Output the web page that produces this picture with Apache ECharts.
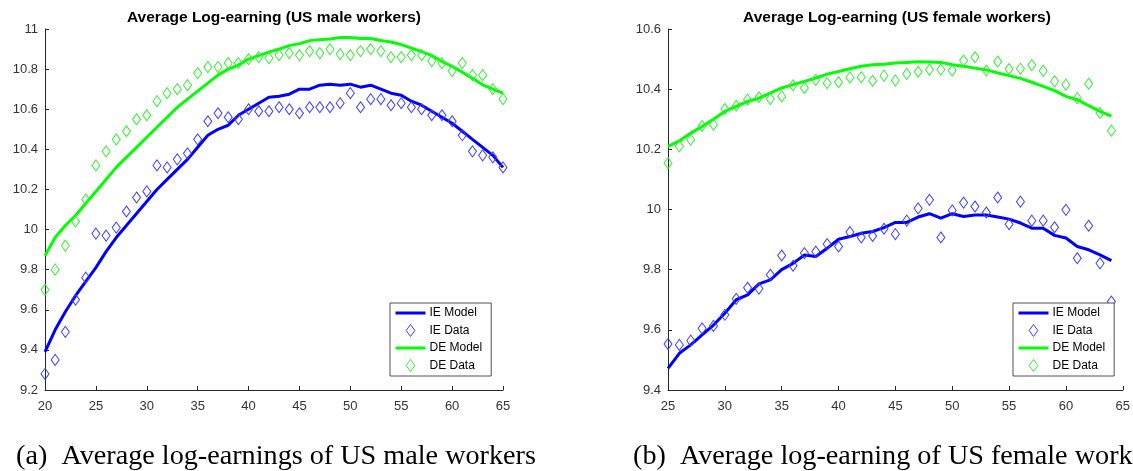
<!DOCTYPE html>
<html>
<head>
<meta charset="utf-8">
<script src="https://cdn.jsdelivr.net/npm/echarts@6/dist/echarts.min.js"></script>
<style>
html,body{margin:0;padding:0;background:#fff;}
#chart{width:1133px;height:471px;}
</style>
</head>
<body>
<div id="chart"></div>
<script>
// ---- Data ----
var maleAges = [20,21,22,23,24,25,26,27,28,29,30,31,32,33,34,35,36,37,38,39,40,41,42,43,44,45,46,47,48,49,50,51,52,53,54,55,56,57,58,59,60,61,62,63,64,65];
var maleIEModel = [9.39,9.50,9.59,9.67,9.74,9.81,9.89,9.96,10.02,10.08,
  10.14,10.20,10.25,10.30,10.35,10.41,10.47,10.50,10.52,10.57,
  10.60,10.63,10.66,10.665,10.675,10.70,10.70,10.72,10.725,10.72,
  10.725,10.71,10.72,10.70,10.68,10.67,10.64,10.62,10.59,10.56,
  10.53,10.49,10.45,10.41,10.37,10.31];
var maleIEData = [9.28,9.35,9.49,9.65,9.76,9.98,9.97,10.01,10.09,10.16,
  10.19,10.32,10.31,10.35,10.38,10.45,10.54,10.58,10.56,10.55,
  10.60,10.59,10.59,10.61,10.60,10.58,10.61,10.61,10.61,10.63,
  10.68,10.61,10.65,10.65,10.62,10.63,10.61,10.60,10.57,10.57,
  10.54,10.47,10.39,10.37,10.36,10.31];
var maleDEModel = [9.87,9.96,10.02,10.07,10.13,10.19,10.25,10.31,10.36,10.41,
  10.46,10.51,10.56,10.61,10.65,10.69,10.73,10.77,10.80,10.82,
  10.85,10.867,10.885,10.90,10.917,10.927,10.942,10.947,10.95,10.957,
  10.958,10.953,10.953,10.943,10.935,10.922,10.905,10.887,10.867,10.838,
  10.814,10.784,10.754,10.722,10.70,10.68];
var maleDEData = [9.70,9.80,9.92,10.04,10.15,10.32,10.39,10.45,10.49,10.55,
  10.57,10.64,10.68,10.70,10.72,10.78,10.81,10.81,10.83,10.83,
  10.85,10.86,10.855,10.87,10.88,10.87,10.89,10.88,10.90,10.875,
  10.87,10.89,10.90,10.89,10.86,10.86,10.87,10.87,10.84,10.83,
  10.79,10.83,10.77,10.77,10.70,10.65];

var femAges = [25,26,27,28,29,30,31,32,33,34,35,36,37,38,39,40,41,42,43,44,45,46,47,48,49,50,51,52,53,54,55,56,57,58,59,60,61,62,63,64];
var femIEModel = [9.472,9.522,9.55,9.583,9.616,9.655,9.70,9.716,9.753,9.766,
  9.80,9.821,9.849,9.844,9.871,9.901,9.91,9.921,9.927,9.94,
  9.957,9.957,9.975,9.986,9.971,9.986,9.977,9.982,9.982,9.975,
  9.968,9.955,9.938,9.938,9.914,9.905,9.877,9.866,9.849,9.83];
var femIEData = [9.553,9.55,9.564,9.605,9.613,9.65,9.703,9.74,9.737,9.783,
  9.847,9.813,9.855,9.86,9.885,9.877,9.925,9.907,9.912,9.936,
  9.918,9.963,10.004,10.032,9.907,9.997,10.023,10.01,9.99,10.04,
  9.951,10.026,9.963,9.963,9.941,9.999,9.838,9.946,9.821,9.694];
var femDEModel = [10.21,10.228,10.254,10.276,10.30,10.326,10.343,10.359,10.37,10.387,
  10.404,10.415,10.426,10.437,10.45,10.459,10.468,10.476,10.481,10.483,
  10.487,10.489,10.491,10.49,10.489,10.481,10.476,10.47,10.464,10.454,
  10.445,10.436,10.423,10.409,10.395,10.376,10.365,10.345,10.326,10.31];
var femDEData = [10.154,10.21,10.232,10.278,10.282,10.334,10.345,10.365,10.373,10.367,
  10.376,10.413,10.404,10.431,10.42,10.423,10.439,10.44,10.428,10.445,
  10.429,10.451,10.458,10.465,10.465,10.462,10.495,10.506,10.462,10.492,
  10.467,10.468,10.48,10.461,10.426,10.415,10.37,10.418,10.321,10.262];

var seriesNames = ['IE Model','IE Data','DE Model','DE Data'];
var chartTitles = ['Average Log-earning (US male workers)','Average Log-earning (US female workers)'];
var captions = ['(a)  Average log-earnings of US male workers','(b)  Average log-earning of US female workers'];

// ---- Build ----
function pairs(xs, ys){ return xs.map(function(x,i){ return [x, ys[i]]; }); }

var BLUE = '#0000ff', GREEN = '#00ff00';
var BLUE_M = '#3b3bff', GREEN_M = '#2ef02e';
var AX = '#262626';
var DIAMOND = 'path://M0,-1 L1,0 L0,1 L-1,0 Z';
var DIAMOND_LEG = 'path://M4,0 L8,5.5 L4,11 L0,5.5 Z';

function lineSeries(name, xi, xs, ys, color){
  return {name:name, type:'line', xAxisIndex:xi, yAxisIndex:xi, data:pairs(xs,ys),
    symbol:'circle', showSymbol:false, smooth:false, animation:false,
    lineStyle:{color:color, width:3}, itemStyle:{color:'rgba(0,0,0,0)', borderWidth:0}, z:2};
}
function scatterSeries(name, xi, xs, ys, color){
  return {name:name, type:'scatter', xAxisIndex:xi, yAxisIndex:xi, data:pairs(xs,ys),
    symbol:DIAMOND, symbolSize:[8,11], symbolKeepAspect:false, animation:false,
    itemStyle:{color:'rgba(0,0,0,0)', borderColor:color, borderWidth:1, opacity:1}, z:3};
}

function xAxisOpt(gi, min, max){
  return {type:'value', gridIndex:gi, min:min, max:max, interval:5,
    axisLine:{show:true, onZero:false, lineStyle:{color:AX, width:1}},
    axisTick:{show:true, inside:true, length:4, lineStyle:{color:AX}},
    axisLabel:{color:'#333', fontSize:13, fontFamily:'Liberation Sans, Arial', margin:10},
    splitLine:{show:false}};
}
function yAxisOpt(gi, min, max){
  return {type:'value', gridIndex:gi, min:min, max:max, interval:0.2,
    axisLine:{show:true, onZero:false, lineStyle:{color:AX, width:1}},
    axisTick:{show:true, inside:true, length:4, lineStyle:{color:AX}},
    axisLabel:{color:'#333', fontSize:13, fontFamily:'Liberation Sans, Arial', margin:7,
      formatter:function(v){ return String(Math.round(v*10)/10); }},
    splitLine:{show:false}};
}
function legendOpt(left){
  return {left:left, top:303, orient:'vertical',
    data:[
      {name:seriesNames[0], lineStyle:{width:3, color:BLUE}},
      {name:seriesNames[1], icon:DIAMOND_LEG,
        itemStyle:{color:'rgba(0,0,0,0)', borderColor:BLUE_M, borderWidth:1}},
      {name:seriesNames[2], lineStyle:{width:3, color:GREEN}},
      {name:seriesNames[3], icon:DIAMOND_LEG,
        itemStyle:{color:'rgba(0,0,0,0)', borderColor:GREEN_M, borderWidth:1}}
    ],
    itemWidth:30, itemHeight:12, itemGap:5, padding:[4,9,4,4],
    backgroundColor:'#fff', borderColor:AX, borderWidth:0.8, borderRadius:0,
    selectedMode:false,
    textStyle:{color:'#000', fontSize:12, fontFamily:'Liberation Sans, Arial', padding:[0,0,0,-1]}};
}

var option = {
  backgroundColor:'#fff',
  animation:false,
  title:[
    {text:chartTitles[0], left:274, top:10, textAlign:'center', padding:0,
      textStyle:{fontSize:15.5, fontWeight:'bold', color:'#000', fontFamily:'Liberation Sans, Arial'}},
    {text:chartTitles[1], left:897, top:10, textAlign:'center', padding:0,
      textStyle:{fontSize:15.5, fontWeight:'bold', color:'#000', fontFamily:'Liberation Sans, Arial'}},
    {text:captions[0], left:16, top:443, padding:0,
      textStyle:{fontSize:28.2, fontWeight:'normal', color:'#000', fontFamily:'Liberation Serif, Times New Roman, serif'}},
    {text:captions[1], left:633, top:443, padding:0,
      textStyle:{fontSize:28.2, fontWeight:'normal', color:'#000', fontFamily:'Liberation Serif, Times New Roman, serif'}}
  ],
  grid:[
    {left:45, top:29, width:458, height:361, containLabel:false},
    {left:668, top:29, width:457, height:361, containLabel:false}
  ],
  xAxis:[xAxisOpt(0,20,65), xAxisOpt(1,25,65)],
  yAxis:[yAxisOpt(0,9.2,11), yAxisOpt(1,9.4,10.6)],
  legend:[legendOpt(390), legendOpt(1013)],
  series:[
    lineSeries(seriesNames[0],0,maleAges,maleIEModel,BLUE),
    scatterSeries(seriesNames[1],0,maleAges,maleIEData,BLUE_M),
    lineSeries(seriesNames[2],0,maleAges,maleDEModel,GREEN),
    scatterSeries(seriesNames[3],0,maleAges,maleDEData,GREEN_M),
    lineSeries(seriesNames[0],1,femAges,femIEModel,BLUE),
    scatterSeries(seriesNames[1],1,femAges,femIEData,BLUE_M),
    lineSeries(seriesNames[2],1,femAges,femDEModel,GREEN),
    scatterSeries(seriesNames[3],1,femAges,femDEData,GREEN_M)
  ]
};

var chart = echarts.init(document.getElementById('chart'), null, {renderer:'canvas'});
chart.setOption(option);
</script>
</body>
</html>
